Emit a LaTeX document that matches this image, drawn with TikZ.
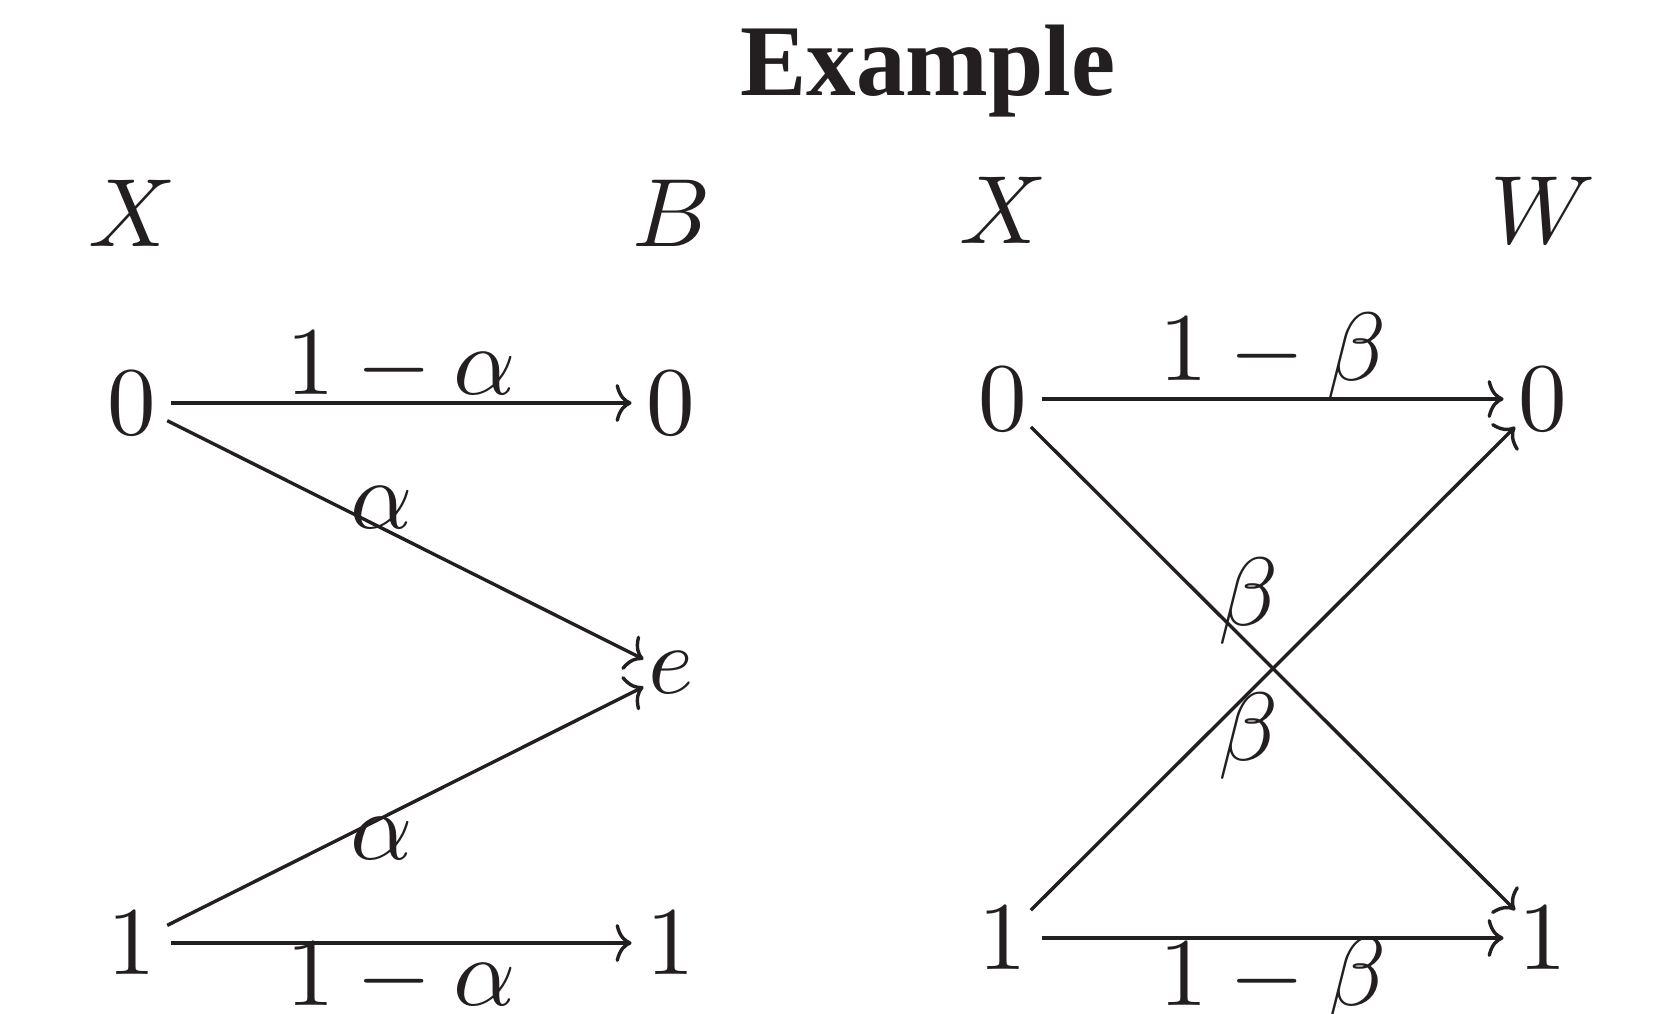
\documentclass[tikz,border=0pt]{standalone}
\usepackage{fontspec}
\newfontfamily\titlefont{Liberation Serif}
\usetikzlibrary{arrows.meta}
\definecolor{ink}{HTML}{231F20}
\newcommand\sz[1]{\scalebox{4.85}{#1}}
\begin{document}
\begin{tikzpicture}[x=0.5pt,y=-0.5pt,
  every node/.style={inner sep=0pt, outer sep=0pt, text=ink, font=\fontsize{10}{12}\selectfont},
  st/.style={circle},
  arr/.style={draw=ink, line width=1.7pt, -{To[length=8pt,width=19pt]}},
  titlestyle/.style={font=\titlefont\bfseries\fontsize{47.5}{57}\selectfont, anchor=base}
  ]
\useasboundingbox (0,0) rectangle (1672,1013);
\node[titlestyle] (title) at (928,95) {\scalebox{1.045}[1.07]{Example}};

% left graph
\node (LX) at (132,213) {\sz{$X$}};
\node (LB) at (672,213) {\sz{$B$}};
\node[st] (L0) at (132,403) {\sz{$0$}};
\node[st] (M0) at (671,403) {\sz{$0$}};
\node[st] (Me) at (671,673) {\sz{$e$}};
\node[st] (L1) at (132,943) {\sz{$1$}};
\node[st] (M1) at (671,943) {\sz{$1$}};
\draw[arr] (L0) -- node[above] (la1) {\sz{$1-\alpha$}} (M0);
\draw[arr] (L0) -- node[pos=0.45, above] (la2) {\sz{$\alpha$}} (Me);
\draw[arr] (L1) -- node[pos=0.45, below] (la3) {\sz{$\alpha$}} (Me);
\draw[arr] (L1) -- node[below] (la4) {\sz{$1-\alpha$}} (M1);

% right graph
\node (RX) at (1003,210) {\sz{$X$}};
\node (RW) at (1543,210) {\sz{$W$}};
\node[st] (R0) at (1003,399) {\sz{$0$}};
\node[st] (S0) at (1543,399) {\sz{$0$}};
\node[st] (R1) at (1003,938) {\sz{$1$}};
\node[st] (S1) at (1543,938) {\sz{$1$}};
\draw[arr] (R0) -- node[above] (lb1) {\sz{$1-\beta$}} (S0);
\draw[arr] (R0) -- node[pos=0.45, above] (lb2) {\sz{$\beta$}} (S1);
\draw[arr] (R1) -- node[pos=0.45, below] (lb3) {\sz{$\beta$}} (S0);
\draw[arr] (R1) -- node[below] (lb4) {\sz{$1-\beta$}} (S1);
\end{tikzpicture}
\end{document}
